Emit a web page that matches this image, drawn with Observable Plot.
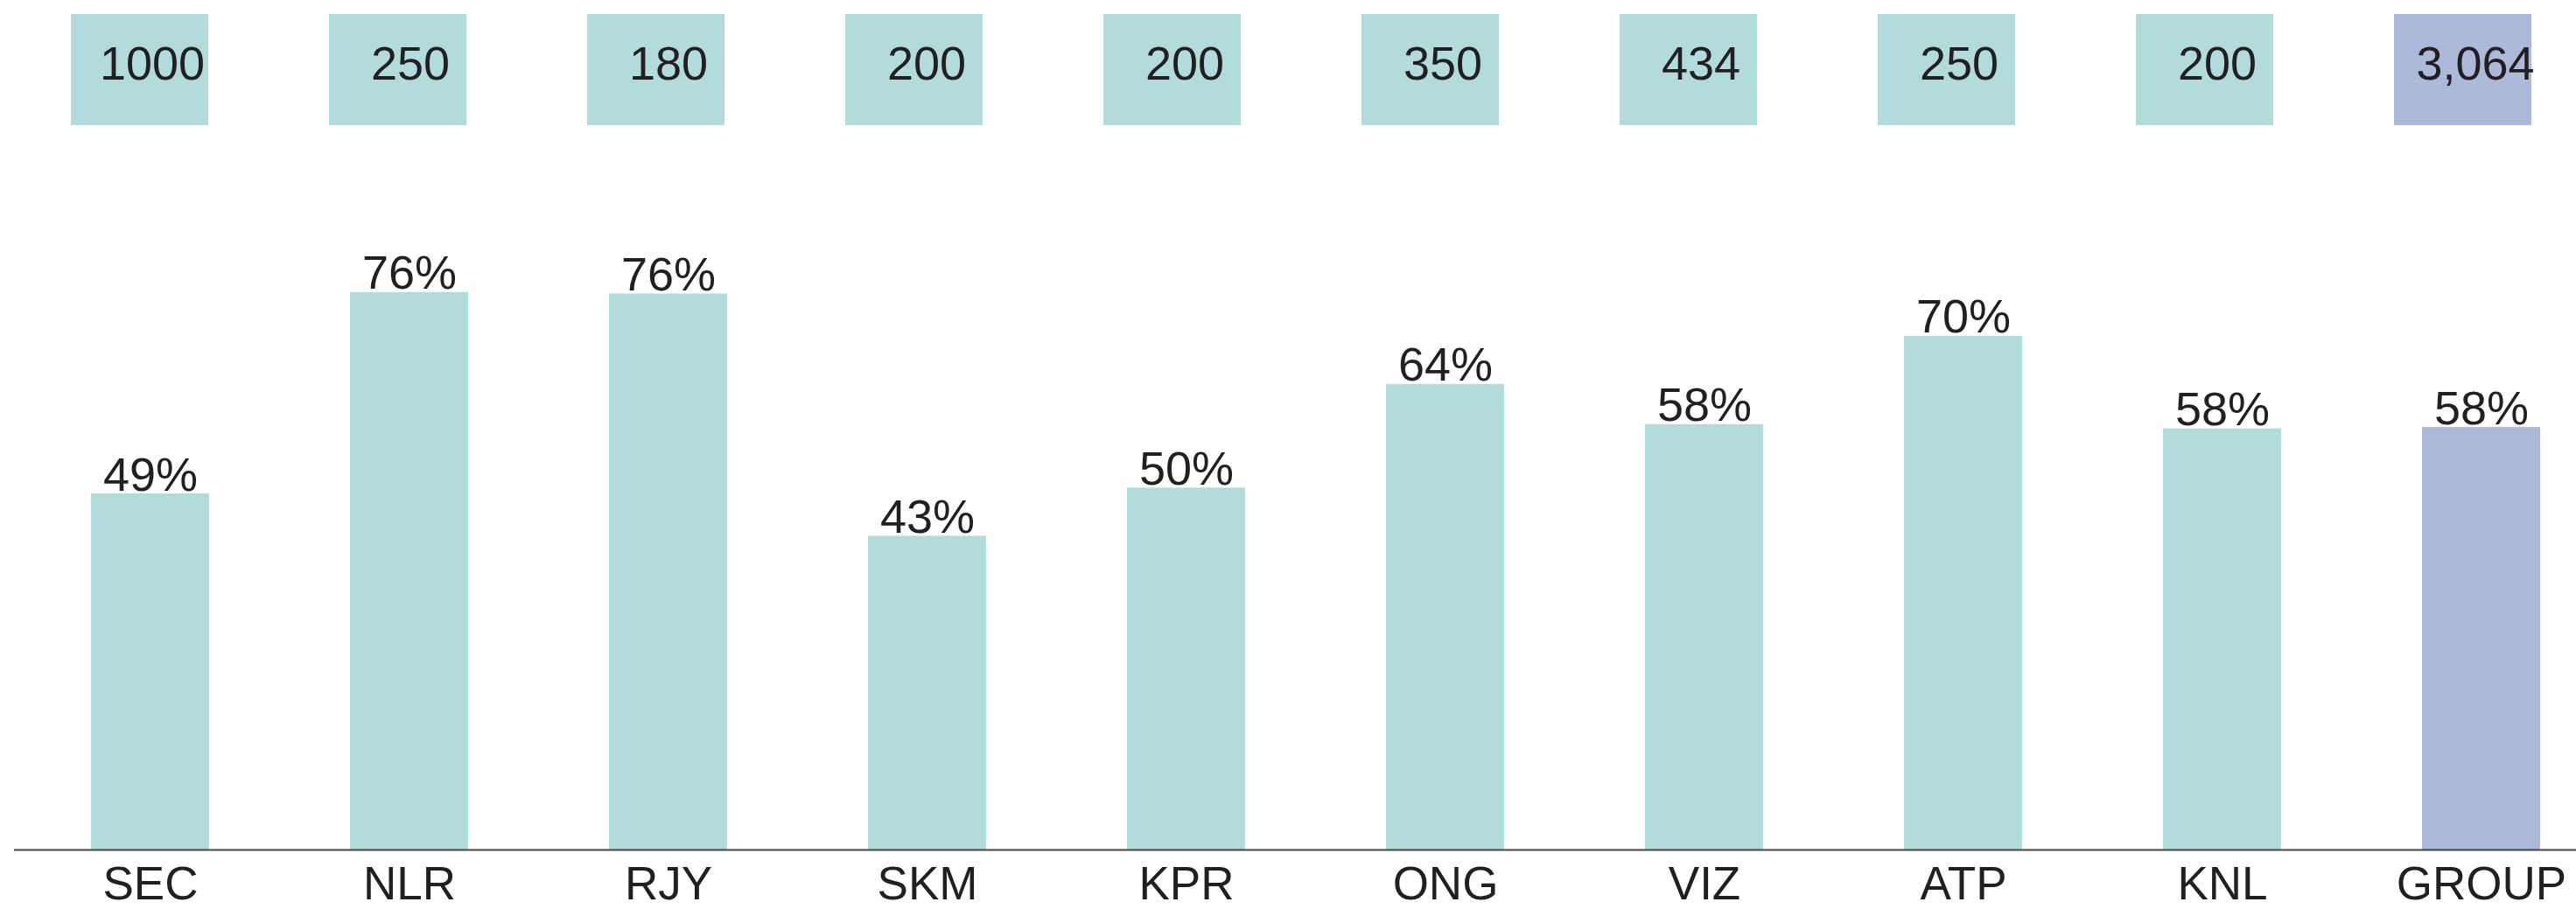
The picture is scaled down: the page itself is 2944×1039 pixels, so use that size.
<!DOCTYPE html>
<html><head><meta charset="utf-8">
<script src="https://cdn.jsdelivr.net/npm/d3@7"></script>
<script src="https://cdn.jsdelivr.net/npm/@observablehq/plot@0.6"></script>
<style>
html,body{margin:0;padding:0;background:#fff;}
#wrap{position:relative;width:2944px;height:1039px;overflow:hidden;}
#wrap svg{position:absolute;left:0;top:0;}
</style></head><body><div id="wrap"></div>
<script>
const categories = ["SEC","NLR","RJY","SKM","KPR","ONG","VIZ","ATP","KNL","GROUP"];
const shares = [48.8, 76.4, 76.2, 43.0, 49.6, 63.8, 58.3, 70.4, 57.7, 57.9];
const counts = [1000, 250, 180, 200, 200, 350, 434, 250, 200, 3064];
const countLabels = ["1000","250","180","200","200","350","434","250","200","3,064"];
const groupCategory = "GROUP";
const kinds = ["site","group"];
const kindColors = ["#b2dbdb","#acb9d9"];

const data = categories.map((c, i) => ({
  cat: c, share: shares[i], count: counts[i], countLabel: countLabels[i],
  kind: c === groupCategory ? "group" : "site"
}));

const font = "'Liberation Sans', Arial, Helvetica, sans-serif";
const ink = "#231f20";

const mainChart = Plot.plot({
  width: 2944, height: 1039,
  marginTop: 137, marginBottom: 68, marginLeft: 16, marginRight: 0,
  x: {domain: categories, range: [100.5, 2906], paddingInner: 0.545, paddingOuter: 0, label: null},
  y: {domain: [0, 100], axis: null},
  color: {domain: kinds, range: kindColors},
  style: {fontFamily: font, fontSize: "53px", color: ink, background: "transparent"},
  marks: [
    Plot.barY(data, {x: "cat", y: "share", fill: "kind"}),
    Plot.ruleY([0], {stroke: "#444", strokeWidth: 2}),
    Plot.text(data, {x: "cat", y: "share", text: d => Math.round(d.share) + "%",
      lineAnchor: "bottom", dy: -4, fontSize: 54, fill: ink}),
    Plot.axisX({tickSize: 0, tickPadding: 19, fontSize: 53, label: null, fill: ink})
  ]
});

const countRow = Plot.plot({
  width: 2944, height: 160,
  marginTop: 16, marginBottom: 17, marginLeft: 0, marginRight: 0,
  x: {domain: categories, range: [78.8, 2894.4], paddingInner: 0.4685, paddingOuter: 0, axis: null},
  color: {domain: kinds, range: kindColors},
  style: {fontFamily: font, fontSize: "53px", color: ink, background: "transparent"},
  marks: [
    Plot.cell(data, {x: "cat", fill: "kind"}),
    Plot.text(data, {x: "cat", text: "countLabel", frameAnchor: "middle",
      dx: 14, dy: -6, fontSize: 54, fill: ink})
  ]
});

const wrap = document.getElementById("wrap");
wrap.appendChild(mainChart);
wrap.appendChild(countRow);
</script></body></html>
